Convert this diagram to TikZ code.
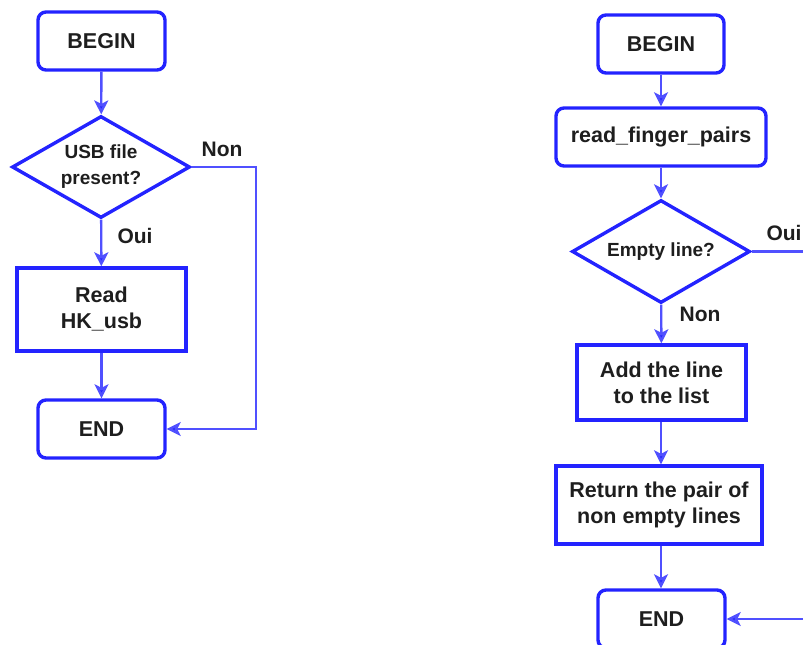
\documentclass[tikz,border=0pt]{standalone}
\usepackage{fontspec}
\setmainfont{Liberation Sans}
\usetikzlibrary{shapes.geometric,arrows.meta}

\definecolor{boxblue}{RGB}{35,35,255}
\definecolor{linkblue}{RGB}{80,80,255}
\definecolor{ink}{RGB}{30,30,30}

\tikzset{
  every node/.style={text=ink, font=\bfseries\fontsize{21.5}{26}\selectfont, align=center},
  terminal/.style={draw=boxblue, line width=3.4pt, rounded corners=8pt, inner sep=0pt,
                   minimum width=127pt, minimum height=58pt},
  procbox/.style={draw=boxblue, line width=3.4pt, inner sep=0pt},
  decision/.style={draw=boxblue, line width=3.4pt, diamond, inner sep=0pt, shape aspect=1.745,
                   minimum width=178pt, minimum height=102pt,
                   font=\bfseries\fontsize{19}{26}\selectfont},
  link/.style={draw=linkblue, line width=2.4pt,
               -{Stealth[length=14pt,width=14pt,inset=3.5pt,fill=boxblue]}},
  plainlink/.style={draw=linkblue, line width=2.4pt},
  branch/.style={font=\bfseries\fontsize{21}{24}\selectfont}
}

\begin{document}
\begin{tikzpicture}[x=1pt,y=-1pt]
  \useasboundingbox (0,0) rectangle (803,645);
  \clip (0,0) rectangle (803,645);

  % ---- USB file check ----
  \node[terminal] (b1) at (101.5,41) {BEGIN};
  \node[decision] (d1) at (101,167) {USB file\\present?};
  \node[procbox, minimum width=169pt, minimum height=83pt] (r1) at (101.5,309.5) {Read\\HK\_usb};
  \node[terminal] (e1) at (101.5,429) {END};
  \coordinate (k1) at (256,167);

  \draw[link] (b1) -- (d1);
  \draw[link] (d1) -- (r1);
  \draw[link] (r1) -- (e1);
  \draw[link] (d1.east) -- (k1) |- (e1.east);
  \node[branch] (n1) at (222,149) {Non};
  \node[branch] (o1) at (135,236) {Oui};

  % ---- read_finger_pairs ----
  \node[terminal, minimum width=126pt] (b2) at (661,44) {BEGIN};
  \node[terminal, minimum width=210pt] (f2) at (661,137) {read\_finger\_pairs};
  \node[decision, minimum height=103pt] (d2) at (661,251.5) {Empty line?};
  \node[procbox, minimum width=169pt, minimum height=75pt] (a2) at (661.5,382.5) {Add the line\\to the list};
  \node[procbox, minimum width=206pt, minimum height=78pt] (t2) at (659,505) {Return the pair of\\non empty lines};
  \node[terminal] (e2) at (661.5,619) {END};
  \coordinate (k2) at (810,251.5);
  \coordinate (k3) at (810,619);

  \draw[link] (b2) -- (f2);
  \draw[link] (f2) -- (d2);
  \draw[link] (d2) -- (a2);
  \draw[link] (a2.south -| 661,0) -- (t2.north -| 661,0);
  \draw[link] (t2.south -| 661,0) -- (e2.north -| 661,0);
  \draw[plainlink] (d2.east) -- (k2);
  \draw[link] (k3) -- (e2.east);
  \node[branch] (o2) at (784,233) {Oui};
  \node[branch] (n2) at (700,314) {Non};
\end{tikzpicture}
\end{document}
